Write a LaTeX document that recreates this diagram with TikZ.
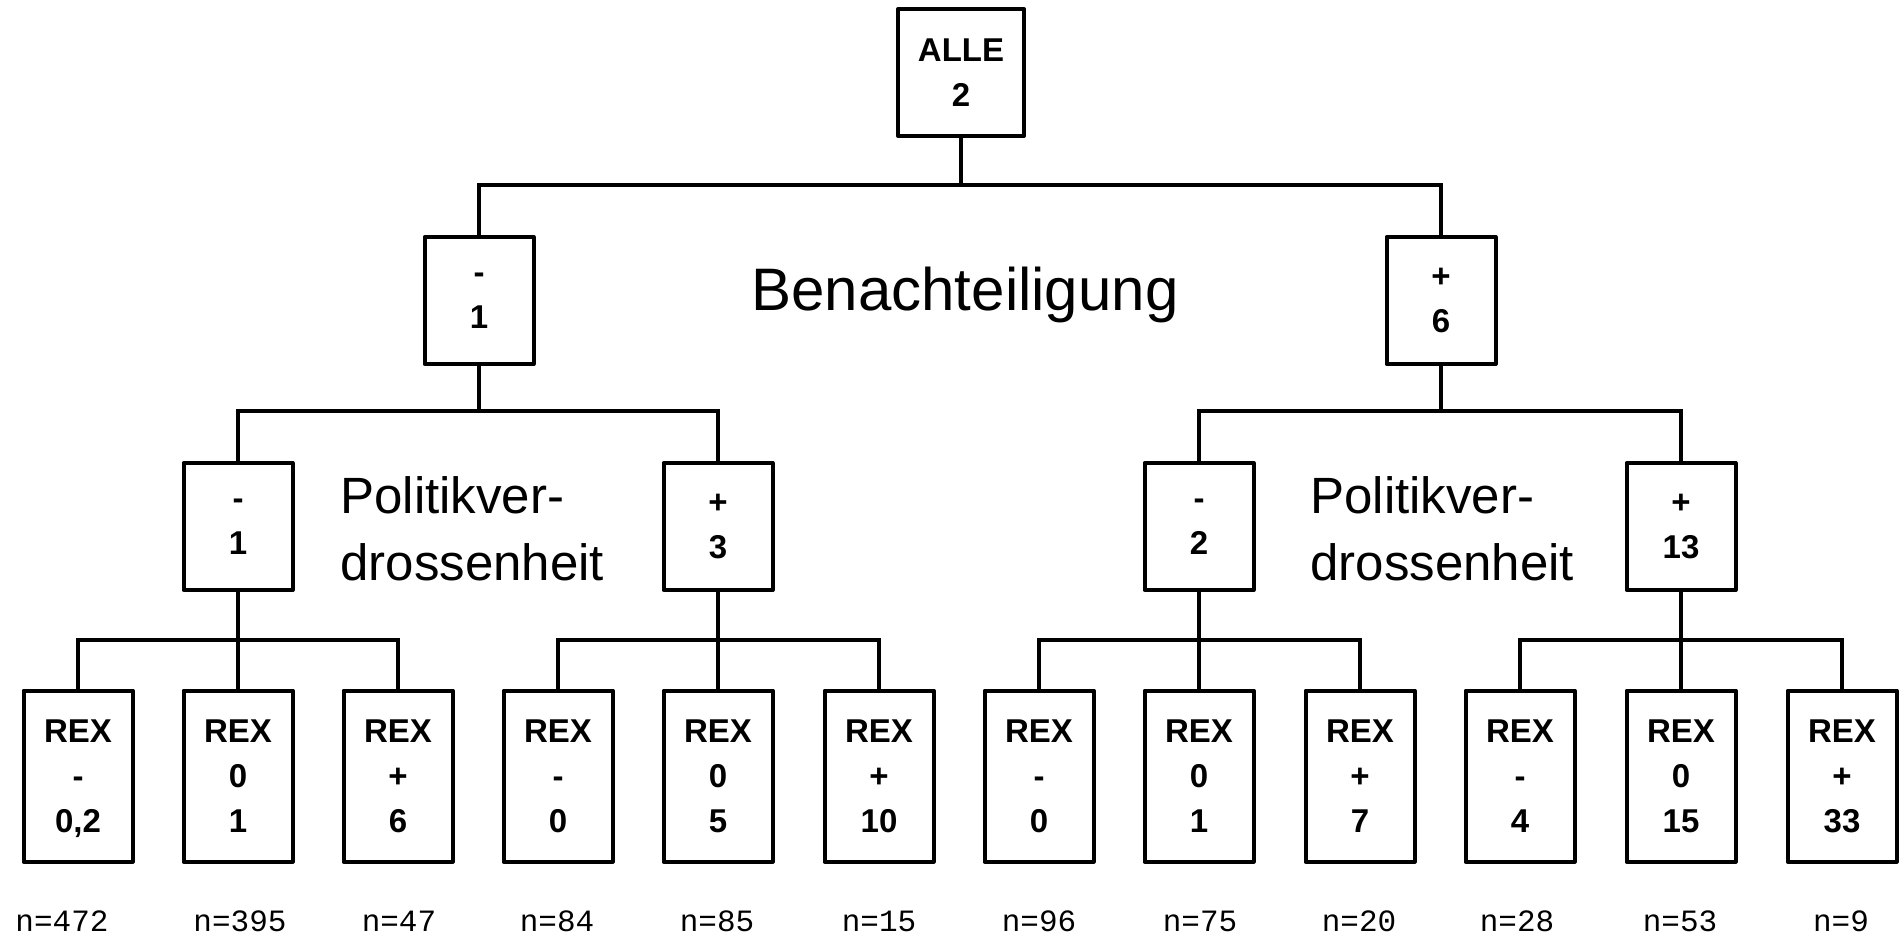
\documentclass[tikz,border=0pt]{standalone}
\usepackage{fontspec}
\setmainfont{Liberation Sans}
\newfontfamily\monof{Liberation Mono}
\begin{document}
\begin{tikzpicture}[x=0.5pt,y=-0.5pt,
  box/.style={draw, line width=2pt, line join=round, minimum width=54.5pt, minimum height=63.5pt,
    inner sep=0pt, align=center, font=\bfseries\fontsize{16.5}{22.5}\selectfont,
    execute at begin node=\rule{0pt}{11.9pt}, text depth=0pt},
  topbox/.style={box, minimum width=63pt},
  rexbox/.style={box, minimum height=85.5pt},
  conn/.style={line width=2pt},
  biglab/.style={font=\fontsize{30}{36}\selectfont, anchor=base},
  midlab/.style={font=\fontsize{25.5}{33.5}\selectfont, anchor=base west, inner sep=0pt},
  nlab/.style={font=\monof\fontsize{15.5}{18}\selectfont, anchor=base, inner sep=0pt}]
\useasboundingbox (0,0) rectangle (1899,937);
\coordinate (b1) at (0,185);
\coordinate (b2) at (0,411);
\coordinate (b3) at (0,640);

\node[topbox] (top) at (961,72.5) {ALLE\\2};
\node[box] (m) at (479,300.5) {-\\1};
\node[box] (p) at (1441,300.5) {+\\6};
\node[box] (mm) at (238,526.5) {-\\1};
\node[box] (mp) at (718,526.5) {+\\3};
\node[box] (pm) at (1199,526.5) {-\\2};
\node[box] (pp) at (1681,526.5) {+\\13};

\node[rexbox] (r1) at (78,776) {REX\\-\\0,2};
\node[rexbox] (r2) at (238,776) {REX\\0\\1};
\node[rexbox] (r3) at (398,776) {REX\\+\\6};
\node[rexbox] (r4) at (558,776) {REX\\-\\0};
\node[rexbox] (r5) at (718,776) {REX\\0\\5};
\node[rexbox] (r6) at (879,776) {REX\\+\\10};
\node[rexbox] (r7) at (1039,776) {REX\\-\\0};
\node[rexbox] (r8) at (1199,776) {REX\\0\\1};
\node[rexbox] (r9) at (1360,776) {REX\\+\\7};
\node[rexbox] (r10) at (1520,776) {REX\\-\\4};
\node[rexbox] (r11) at (1681,776) {REX\\0\\15};
\node[rexbox] (r12) at (1842,776) {REX\\+\\33};

\node[biglab] (ben) at (965,310) {Benachteiligung};
\node[midlab] (pv1a) at (340,513) {Politikver-};
\node[midlab] (pv1b) at (340,580) {drossenheit};
\node[midlab] (pv2a) at (1310,513) {Politikver-};
\node[midlab] (pv2b) at (1310,580) {drossenheit};

\node[nlab] (n1) at (62,931) {n=472};
\node[nlab] (n2) at (240,931) {n=395};
\node[nlab] (n3) at (399,931) {n=47};
\node[nlab] (n4) at (557,931) {n=84};
\node[nlab] (n5) at (717,931) {n=85};
\node[nlab] (n6) at (879,931) {n=15};
\node[nlab] (n7) at (1039,931) {n=96};
\node[nlab] (n8) at (1200,931) {n=75};
\node[nlab] (n9) at (1359,931) {n=20};
\node[nlab] (n10) at (1517,931) {n=28};
\node[nlab] (n11) at (1680,931) {n=53};
\node[nlab] (n12) at (1841,931) {n=9};

% connectors
\draw[conn] (top.south) -- (top.south |- b1);
\draw[conn] (top.south |- b1) -| (m.north);
\draw[conn] (top.south |- b1) -| (p.north);

\draw[conn] (m.south) -- (m.south |- b2);
\draw[conn] (m.south |- b2) -| (mm.north);
\draw[conn] (m.south |- b2) -| (mp.north);
\draw[conn] (p.south) -- (p.south |- b2);
\draw[conn] (p.south |- b2) -| (pm.north);
\draw[conn] (p.south |- b2) -| (pp.north);

\draw[conn] (mm.south) -- (r2.north);
\draw[conn] (mm.south |- b3) -| (r1.north);
\draw[conn] (mm.south |- b3) -| (r3.north);
\draw[conn] (mp.south) -- (r5.north);
\draw[conn] (mp.south |- b3) -| (r4.north);
\draw[conn] (mp.south |- b3) -| (r6.north);
\draw[conn] (pm.south) -- (r8.north);
\draw[conn] (pm.south |- b3) -| (r7.north);
\draw[conn] (pm.south |- b3) -| (r9.north);
\draw[conn] (pp.south) -- (r11.north);
\draw[conn] (pp.south |- b3) -| (r10.north);
\draw[conn] (pp.south |- b3) -| (r12.north);
\end{tikzpicture}
\end{document}
